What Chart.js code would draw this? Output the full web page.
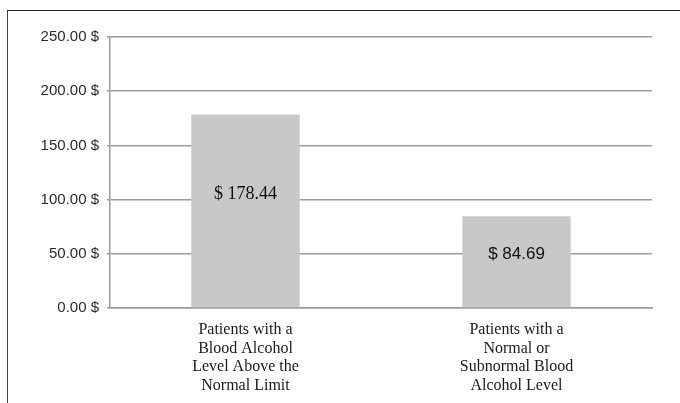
<!DOCTYPE html>
<html>
<head>
<meta charset="utf-8">
<script src="https://cdn.jsdelivr.net/npm/chart.js@4"></script>
<style>
  html, body { margin: 0; padding: 0; background: #fff; }
  #wrap { position: relative; width: 680px; height: 403px; overflow: hidden; }
  #frame { position: absolute; left: 7px; top: 10px; width: 700px; height: 420px;
           border-top: 1.5px solid #222; border-left: 1.5px solid #444; }
  canvas { position: absolute; left: 0; top: 0; }
</style>
</head>
<body>
<div id="wrap">
  <div id="frame"></div>
  <canvas id="grafico" width="680" height="403"></canvas>
</div>
<script>
// datos del gráfico
const categorias = [
  ["Patients with a", "Blood Alcohol", "Level Above the", "Normal Limit"],
  ["Patients with a", "Normal or", "Subnormal Blood", "Alcohol Level"]
];
const costos = [178.44, 84.69];
const etiquetasValor = ["$ 178.44", "$ 84.69"];
const fuentesValor = ["'Liberation Serif', 'Times New Roman', serif", "'Liberation Sans', Arial, sans-serif"];
const tamanosValor = [18, 17];

const gris = "#9c9c9c";

// etiquetas dentro de las barras
const etiquetasBarras = {
  id: "etiquetasBarras",
  afterDatasetsDraw(chart) {
    const { ctx, scales } = chart;
    ctx.save();
    ctx.fillStyle = "#111";
    ctx.textAlign = "center";
    ctx.textBaseline = "middle";
    costos.forEach((v, i) => {
      const x = scales.x.getPixelForValue(i);
      const y = scales.y.getPixelForValue(v * 0.59);
      ctx.font = `${tamanosValor[i]}px ${fuentesValor[i]}`;
      ctx.fillText(etiquetasValor[i], x, y);
    });
    ctx.restore();
  }
};

new Chart(document.getElementById("grafico").getContext("2d"), {
  type: "bar",
  data: {
    labels: categorias,
    datasets: [{
      data: costos,
      backgroundColor: "#c8c8c8",
      borderWidth: 0,
      barPercentage: 0.4,
      categoryPercentage: 1
    }]
  },
  options: {
    responsive: false,
    animation: false,
    devicePixelRatio: 1,
    layout: { padding: { left: 0, right: 28, top: 37, bottom: 0 } },
    plugins: {
      legend: { display: false },
      tooltip: { enabled: false }
    },
    scales: {
      x: {
        grid: { display: false, drawTicks: false },
        border: { display: true, color: gris, width: 1.5 },
        ticks: {
          color: "#1a1a1a",
          padding: 13,
          maxRotation: 0,
          autoSkip: false,
          font: { family: "'Liberation Serif', 'Times New Roman', serif", size: 16, lineHeight: 1.15 }
        },
        afterFit(scale) { scale.height = 95; }
      },
      y: {
        min: 0,
        max: 250,
        ticks: {
          stepSize: 50,
          color: "#2a2a2a",
          padding: 8,
          font: { family: "'Liberation Sans', Arial, sans-serif", size: 15 },
          callback: v => v.toFixed(2) + " $"
        },
        grid: { color: gris, lineWidth: 1.5, tickLength: 3, drawTicks: true },
        border: { display: true, color: gris, width: 1.5 },
        afterFit(scale) { scale.width = 110; }
      }
    }
  },
  plugins: [etiquetasBarras]
});
</script>
</body>
</html>
